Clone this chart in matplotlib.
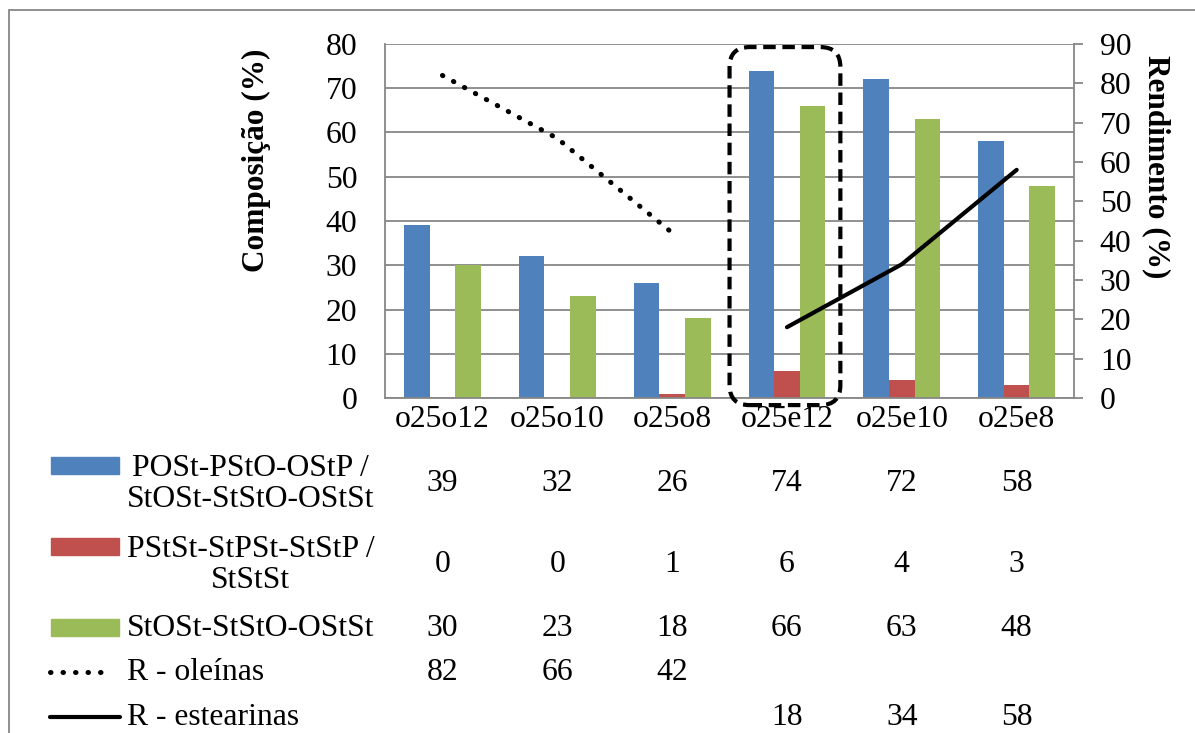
import numpy as np
import matplotlib
matplotlib.use("Agg")
import matplotlib.pyplot as plt
import matplotlib.transforms as mtransforms
from matplotlib.patches import Rectangle, FancyBboxPatch
from matplotlib.lines import Line2D

plt.rcParams['font.family'] = ['Liberation Serif', 'DejaVu Serif']

# amostras e séries
amostras = ["o25o12", "o25o10", "o25o8", "o25e12", "o25e10", "o25e8"]
posT = [39, 32, 26, 74, 72, 58]
pstst = [0, 0, 1, 6, 4, 3]
stost = [30, 23, 18, 66, 63, 48]
r_oleinas = [82, 66, 42, None, None, None]
r_estearinas = [None, None, None, 18, 34, 58]

nomes = ["POSt-PStO-OStP /\nStOSt-StStO-OStSt",
         "PStSt-StPSt-StStP /\nStStSt",
         "StOSt-StStO-OStSt",
         "R - oleínas",
         "R - estearinas"]

azul = "#4F81BD"
vermelho = "#C0504D"
verde = "#9BBB59"
cinza = "#878787"
fs = 22.8

fig = plt.figure(figsize=(11.95, 7.33), dpi=100)
ax = fig.add_axes([0.3222, 0.4570, 0.5766, 0.4830])
ax2 = ax.twinx()

x = np.arange(len(amostras))
w = 0.223
ax.bar(x - w, posT, w, color=azul, zorder=2)
ax.bar(x, pstst, w, color=vermelho, zorder=2)
ax.bar(x + w, stost, w, color=verde, zorder=2)

ax.set_xlim(-0.5, len(amostras) - 0.5)
ax.set_ylim(0, 80)
ax.set_yticks(range(0, 81, 10))
ax.yaxis.grid(True, color=cinza, lw=1.3, zorder=0)
ax.set_axisbelow(True)
ax.set_xticks(x)
ax.set_xticklabels(amostras)
ax.tick_params(axis='x', length=0, labelsize=fs, pad=5)
ax.tick_params(axis='y', length=0, labelsize=fs, pad=20)
for s in ['left', 'bottom']:
    ax.spines[s].set_color(cinza)
    ax.spines[s].set_linewidth(1.3)
ax.spines['top'].set_visible(False)
ax.spines['right'].set_visible(False)
ax.set_ylabel("Composição (%)", fontsize=22.5, fontweight='bold')
ax.yaxis.set_label_coords(-0.165, 0.672)

# rendimento no eixo secundário
ro = np.array([np.nan if v is None else v for v in r_oleinas], dtype=float)
re = np.array([np.nan if v is None else v for v in r_estearinas], dtype=float)
pontilhado = (0, (0.1, 2.4))
ax2.plot(x, ro, color='black', lw=3.6, linestyle=pontilhado,
         dash_capstyle='round', zorder=4)
ax2.plot(x, re, color='black', lw=3.0, solid_capstyle='round', zorder=4)
ax2.set_ylim(0, 90)
ax2.set_yticks(range(0, 91, 10))
ax2.tick_params(axis='y', direction='out', length=6.5, width=1.3, color=cinza,
                labelsize=fs, pad=12)
ax2.spines['right'].set_color(cinza)
ax2.spines['right'].set_linewidth(1.3)
for s in ['left', 'top', 'bottom']:
    ax2.spines[s].set_visible(False)
ax2.set_ylabel("Rendimento (%)", fontsize=22.5, fontweight='bold', rotation=270)
ax2.yaxis.set_label_coords(1.141, 0.652)

# caixa tracejada em volta de o25e12
p0 = ax.transData.transform((0, 0))
px = ax.transData.transform((1, 0))[0] - p0[0]
py = ax.transData.transform((0, 1))[1] - p0[1]
caixa = FancyBboxPatch((2.5, -1.6), 0.965, 80.9,
                       boxstyle="round,pad=0,rounding_size=%f" % (20 / px),
                       mutation_aspect=px / py,
                       fill=False, ec='black', lw=3.0,
                       linestyle=(0, (3.0, 1.6)), clip_on=False, zorder=5)
ax.add_patch(caixa)

# tabela de dados abaixo do gráfico
tr = mtransforms.blended_transform_factory(ax.transData, fig.transFigure)
linhas_y = [0.3397, 0.2292, 0.1432, 0.0832, 0.0218]
series = [posT, pstst, stost, r_oleinas, r_estearinas]
for yv, vals in zip(linhas_y, series):
    for i, v in enumerate(vals):
        if v is not None:
            ax.text(i, yv, str(v), transform=tr, ha='center', va='center',
                    fontsize=fs, clip_on=False)

for yv, nome in zip(linhas_y, nomes):
    fig.text(127 / 1195, yv, nome, ha='left', va='center', fontsize=fs,
             multialignment='center', linespacing=1.12)

# chaves da legenda
chave_y = [(733 - 465) / 733, (733 - 546) / 733, (733 - 627) / 733]
for yc, cor in zip(chave_y, [azul, vermelho, verde]):
    fig.patches.append(Rectangle((51 / 1195, yc - 8.5 / 733), 68 / 1195, 17 / 733,
                                 transform=fig.transFigure, color=cor))
fig.lines.append(Line2D([50 / 1195, 112 / 1195], [linhas_y[3], linhas_y[3]],
                        transform=fig.transFigure, color='black', lw=3.6,
                        linestyle=pontilhado, dash_capstyle='round'))
fig.lines.append(Line2D([50 / 1195, 120 / 1195], [linhas_y[4], linhas_y[4]],
                        transform=fig.transFigure, color='black', lw=3.0,
                        solid_capstyle='round'))

# moldura do gráfico
fig.patches.append(Rectangle((9 / 1195, -0.02), 1.05, (733 - 10) / 733 + 0.02,
                             transform=fig.transFigure, fill=False,
                             ec=cinza, lw=1.3))

fig.savefig("out.png", dpi=100)
